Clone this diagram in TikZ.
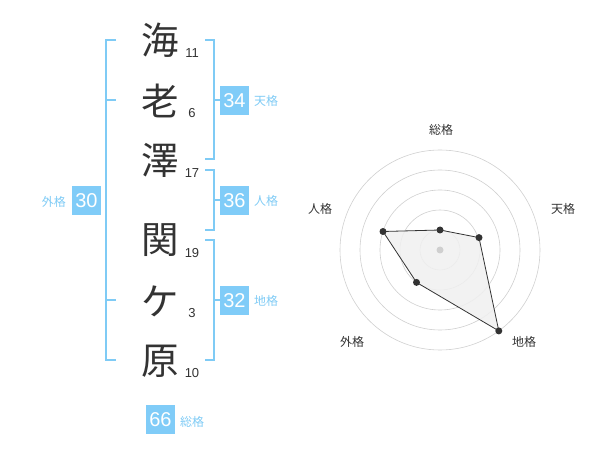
\documentclass[tikz,border=0pt]{standalone}
\usepackage{fontspec}
\usetikzlibrary{calc}
\setmainfont{Liberation Sans}
\newfontfamily\jp{Noto Sans CJK JP}
\definecolor{brk}{HTML}{7FCBF5}
\definecolor{boxc}{HTML}{80CCF8}
\definecolor{ink}{HTML}{333333}
\definecolor{ring}{HTML}{CFCFCF}
\begin{document}
\begin{tikzpicture}[x=1pt,y=-1pt,
  kanji/.style={font=\jp\fontsize{37.5}{38}\selectfont, text=ink, inner sep=0pt},
  stroke/.style={font=\fontsize{13}{13}\selectfont, text=ink, inner sep=0pt},
  numbox/.style={fill=boxc, text=white, minimum width=29pt, minimum height=29pt, inner sep=0pt, font=\fontsize{20}{20}\selectfont},
  kaku/.style={font=\jp\fontsize{12}{12}\selectfont, text=brk, inner sep=0pt},
  bline/.style={draw=brk, line width=2pt},
  radlab/.style={font=\jp\fontsize{12}{12}\selectfont, text=ink, inner sep=0pt},
  dot/.style={circle, fill=ink, inner sep=0pt, minimum size=7pt}]
\useasboundingbox (0,0) rectangle (600,470);
% characters
\node[kanji] (c1) at (160,40) {海};
\node[kanji] (c2) at (160,101) {老};
\node[kanji] (c3) at (160,160) {澤};
\node[kanji] (c4) at (160,240) {関};
\node[kanji] (c5) at (160,301) {ケ};
\node[kanji] (c6) at (160,361) {原};
\node[stroke] (n1) at (192,53) {11};
\node[stroke] (n2) at (192,113) {6};
\node[stroke] (n3) at (192,173) {17};
\node[stroke] (n4) at (192,253) {19};
\node[stroke] (n5) at (192,313) {3};
\node[stroke] (n6) at (192,373) {10};
% brackets
\draw[bline] (116,40) -- (106,40) -- (106,360) -- (116,360);
\draw[bline] (106,100) -- (116,100);
\draw[bline] (106,300) -- (116,300);
\draw[bline] (205,40) -- (214,40) -- (214,159) -- (205,159);
\draw[bline] (214,100) -- (220,100);
\draw[bline] (205,170) -- (214,170) -- (214,230) -- (205,230);
\draw[bline] (214,200) -- (220,200);
\draw[bline] (205,240) -- (214,240) -- (214,360) -- (205,360);
\draw[bline] (214,300) -- (220,300);
% boxes
\node[numbox] (t) at (234.5,100.5) {34};
\node[kaku, anchor=west] (tl) at (254,101) {天格};
\node[numbox] (j) at (234.5,200.5) {36};
\node[kaku, anchor=west] (jl) at (254,201) {人格};
\node[numbox] (c) at (234.5,300.5) {32};
\node[kaku, anchor=west] (cl) at (254,301) {地格};
\node[numbox] (g) at (86.5,200.5) {30};
\node[kaku, anchor=east] (gl) at (66,202) {外格};
\node[numbox] (s) at (160.5,419.5) {66};
\node[kaku, anchor=west] (sl) at (180,422) {総格};
% radar
\coordinate (O) at (440,250);
\foreach \r in {20,40,60,80,100} \draw[ring, line width=0.6pt] (O) circle[radius=\r];
\coordinate (ps) at (440,230);
\coordinate (pt) at (479,237.6);
\coordinate (pc) at (498.8,330.9);
\coordinate (pg) at (416.5,282.4);
\coordinate (pj) at (383,231.5);
\fill[black!6, opacity=0.85] (ps) -- (pt) -- (pc) -- (pg) -- (pj) -- cycle;
\draw[ink, line width=0.8pt] (ps) -- (pt) -- (pc) -- (pg) -- (pj) -- cycle;
\fill[ring] (O) circle[radius=3.5];
\foreach \p in {ps,pt,pc,pg,pj} \node[dot] at (\p) {};
\node[radlab] (ls) at (441,130) {総格};
\node[radlab] (lt) at (563,209) {天格};
\node[radlab] (lj) at (320,209) {人格};
\node[radlab] (lg) at (352,342) {外格};
\node[radlab] (lc) at (524,342) {地格};
\end{tikzpicture}
\end{document}
